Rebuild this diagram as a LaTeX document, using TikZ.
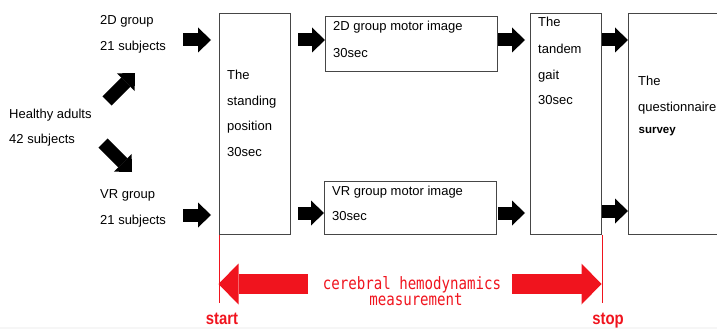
\documentclass[tikz,border=0pt]{standalone}
\usepackage{fontspec}
\setmainfont{Liberation Sans}
\newfontfamily\monofont[FakeStretch=0.83]{DejaVu Sans Mono}
\newfontfamily\narrowbold[FakeStretch=0.85]{Liberation Sans Bold}
\usetikzlibrary{arrows.meta}
\definecolor{boxline}{RGB}{70,70,70}
\definecolor{measred}{RGB}{240,20,30}
\tikzset{
  stagebox/.style={draw=boxline, line width=1.1pt, fill=white, inner sep=0pt, anchor=north west},
  lbl/.style={anchor=base west, inner sep=0pt, font=\fontsize{13}{15}\selectfont},
  blk/.style={line width=13pt, black, -{Triangle[length=13pt,width=25pt,line width=0pt]}},
  redblk/.style={line width=20pt, measred, -{Triangle[length=20pt,width=41pt,line width=0pt]}},
  redmark/.style={measred, line width=0.9pt},
  redtxt/.style={measred, inner sep=0pt, anchor=base, font=\monofont\fontsize{17}{19}\selectfont},
  endtxt/.style={measred, inner sep=0pt, anchor=base, font=\narrowbold\fontsize{17.5}{20}\selectfont},
}
\begin{document}
\begin{tikzpicture}[x=1pt, y=-1pt]
\useasboundingbox (0,0) rectangle (717,329);
\fill[gray!7] (0,327) rectangle (717,329);
\clip (0,0) rectangle (717,329);

% stage boxes
\node[stagebox, minimum width=71pt, minimum height=221pt] (stand) at (219,13) {};
\node[stagebox, minimum width=172pt, minimum height=55pt] (mi2d) at (325,16) {};
\node[stagebox, minimum width=172pt, minimum height=53pt] (mivr) at (324,181) {};
\node[stagebox, minimum width=71pt, minimum height=221pt] (tandem) at (530,13) {};
\node[stagebox, minimum width=100pt, minimum height=221pt] (quest) at (628,13) {};

% group labels
\node[lbl] (hA) at (9,118) {Healthy adults};
\node[lbl] (hB) at (9,143.5) {42 subjects};
\node[lbl] (gA) at (100,25) {2D group};
\node[lbl] (gB) at (100,51) {21 subjects};
\node[lbl] (vA) at (100,198) {VR group};
\node[lbl] (vB) at (100,224) {21 subjects};

% box texts
\node[lbl] (s1) at (227,79) {The};
\node[lbl] (s2) at (227,105) {standing};
\node[lbl] (s3) at (227,130.5) {position};
\node[lbl] (s4) at (227,156) {30sec};
\node[lbl] (m1) at (333,30.5) {2D group motor image};
\node[lbl] (m2) at (333,57) {30sec};
\node[lbl] (r1) at (332,195) {VR group motor image};
\node[lbl] (r2) at (332,220.5) {30sec};
\node[lbl] (t1) at (538,26.5) {The};
\node[lbl] (t2) at (538,53) {tandem};
\node[lbl] (t3) at (538,79) {gait};
\node[lbl] (t4) at (538,104.5) {30sec};
\node[lbl] (q1) at (638,85) {The};
\node[lbl] (q2) at (638,111.5) {questionnaire};
\node[lbl, font=\bfseries\fontsize{11.5}{13}\selectfont] (q3) at (638.5,133) {survey};

% block arrow end points
\coordinate (du0) at (107,101); \coordinate (du1) at (135,73);
\coordinate (dd0) at (103,143); \coordinate (dd1) at (132,172);
\coordinate (a0) at (183,40);  \coordinate (a1) at (211,40);
\coordinate (b0) at (183,215); \coordinate (b1) at (211,215);
\coordinate (c0) at (298,40);  \coordinate (c1) at (325,40);
\coordinate (d0) at (298,213); \coordinate (d1) at (324,213);
\coordinate (e0) at (498,40);  \coordinate (e1) at (525,40);
\coordinate (f0) at (498,213); \coordinate (f1) at (525,213);
\coordinate (g0) at (602,40);  \coordinate (g1) at (628,40);
\coordinate (h0) at (602,211); \coordinate (h1) at (628,211);

\draw[blk] (du0) -- (du1);
\draw[blk] (dd0) -- (dd1);
\draw[blk] (a0) -- (a1);
\draw[blk] (b0) -- (b1);
\draw[blk] (c0) -- (c1);
\draw[blk] (d0) -- (d1);
\draw[blk] (e0) -- (e1);
\draw[blk] (f0) -- (f1);
\draw[blk] (g0) -- (g1);
\draw[blk] (h0) -- (h1);

% measurement span
\coordinate (ms) at ([yshift=-68pt]stand.south west);
\coordinate (me) at ([yshift=-68pt]tandem.south east);
\draw[redmark] (stand.south west) -- (ms);
\draw[redmark] (tandem.south east) -- (me);
\coordinate (lt) at (308,284); \coordinate (lh) at (218.5,284);
\coordinate (rt) at (512,284); \coordinate (rh) at (601.5,284);
\draw[redblk] (lt) -- (lh);
\draw[redblk] (rt) -- (rh);
\node[redtxt] (cm1) at (412,289) {cerebral hemodynamics};
\node[redtxt] (cm2) at (416,305.5) {measurement};
\node[endtxt] (st) at (222,324.5) {start};
\node[endtxt] (sp) at (608,324.5) {stop};
\end{tikzpicture}
\end{document}
